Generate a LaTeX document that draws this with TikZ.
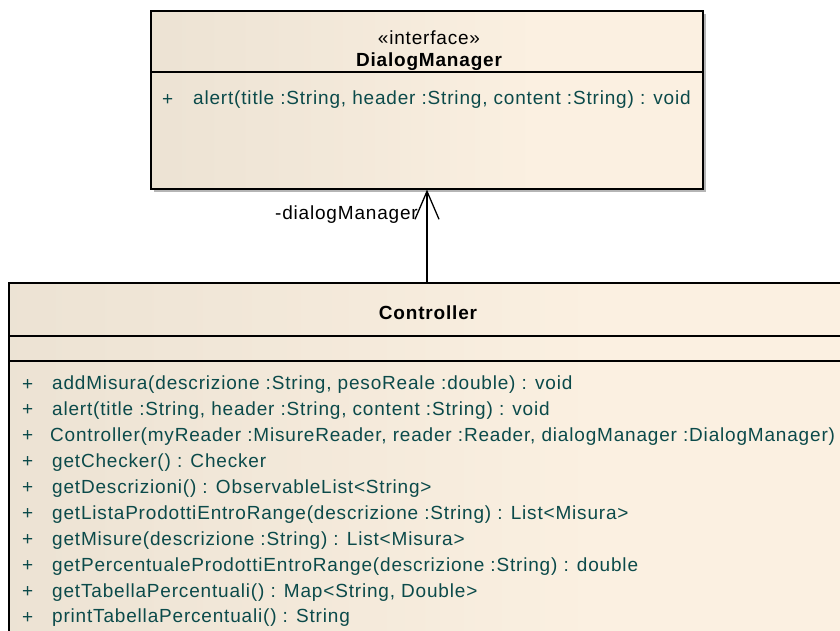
\documentclass[tikz,border=0pt]{standalone}
\usepackage{fontspec}
\setmainfont{Liberation Sans}
\newfontfamily\umlfont[LetterSpace=4.3]{Liberation Sans}
\usetikzlibrary{arrows.meta}
\definecolor{boxL}{HTML}{E3DACB}
\definecolor{boxR}{HTML}{FBF0E1}
\definecolor{methodcol}{HTML}{0B4A4A}
\definecolor{shadowgray}{HTML}{B5B5B5}
\pgfdeclarehorizontalshading{umlshade}{100bp}{color(0bp)=(boxL); color(45bp)=(boxR!70!boxL); color(60bp)=(boxR); color(100bp)=(boxR)}
\tikzset{
  umlbox/.style={draw=black, line width=1.6pt, shading=umlshade, anchor=north west, inner sep=0pt},
  umltxt/.style={inner sep=0pt, font=\umlfont\fontsize{19}{22}\selectfont},
  method/.style={umltxt, anchor=west, text=methodcol},
  classname/.style={umltxt, font=\umlfont\fontsize{19}{22}\selectfont\bfseries, text=black},
  divider/.style={draw=black, line width=1.6pt},
  assoc/.style={draw=black, line width=1.3pt, -{Straight Barb[length=28pt, width=24pt]}}
}
\begin{document}
\begin{tikzpicture}[x=1pt,y=-1pt]
\clip (0,0) rectangle (840,630);
\fill[white] (0,0) rectangle (840,630);
% DialogManager
\fill[shadowgray] (154,14) rectangle (706,192);
\node[umlbox, minimum width=552pt, minimum height=178pt] (dm) at (150,10) {};
\draw[divider] (150,72) -- (702,72);
\node[umltxt] (dmst) at (429,38) {«interface»};
\node[classname] (dmname) at (429,62) {DialogManager};
\node[method] (dmp1) at (162,100) {+};
\node[method] (dmm1) at (193,100) {alert(title :String, header :String, content :String) : void};
% Controller
\node[umlbox, minimum width=840pt, minimum height=420pt] (ctrl) at (8,282) {};
\draw[divider] (8,336) -- (848,336);
\draw[divider] (8,361) -- (848,361);
\node[classname] (ctrlname) at (428,313) {Controller};
\foreach \i/\y/\dx/\t in {
  1/385/0/{addMisura(descrizione :String, pesoReale :double) : void},
  2/410.5/0/{alert(title :String, header :String, content :String) : void},
  3/436.5/-2/{Controller(myReader :MisureReader, reader :Reader, dialogManager :DialogManager)},
  4/462.5/0/{getChecker() : Checker},
  5/488.5/0/{getDescrizioni() : ObservableList<String>},
  6/514.5/0/{getListaProdottiEntroRange(descrizione :String) : List<Misura>},
  7/540.5/0/{getMisure(descrizione :String) : List<Misura>},
  8/566.5/0/{getPercentualeProdottiEntroRange(descrizione :String) : double},
  9/592.5/0/{getTabellaPercentuali() : Map<String, Double>},
  10/618/0/{printTabellaPercentuali() : String}} {
  \node[method] (cp\i) at (22,\y) {+};
  \node[method] (cm\i) at (52+\dx,\y) {\t};
}
% association
\coordinate (ax) at (427,0);
\draw[assoc] (ctrl.north -| ax) -- (dm.south -| ax);
\node[umltxt, anchor=east] (role) at (418,215) {-dialogManager};
\end{tikzpicture}
\end{document}
